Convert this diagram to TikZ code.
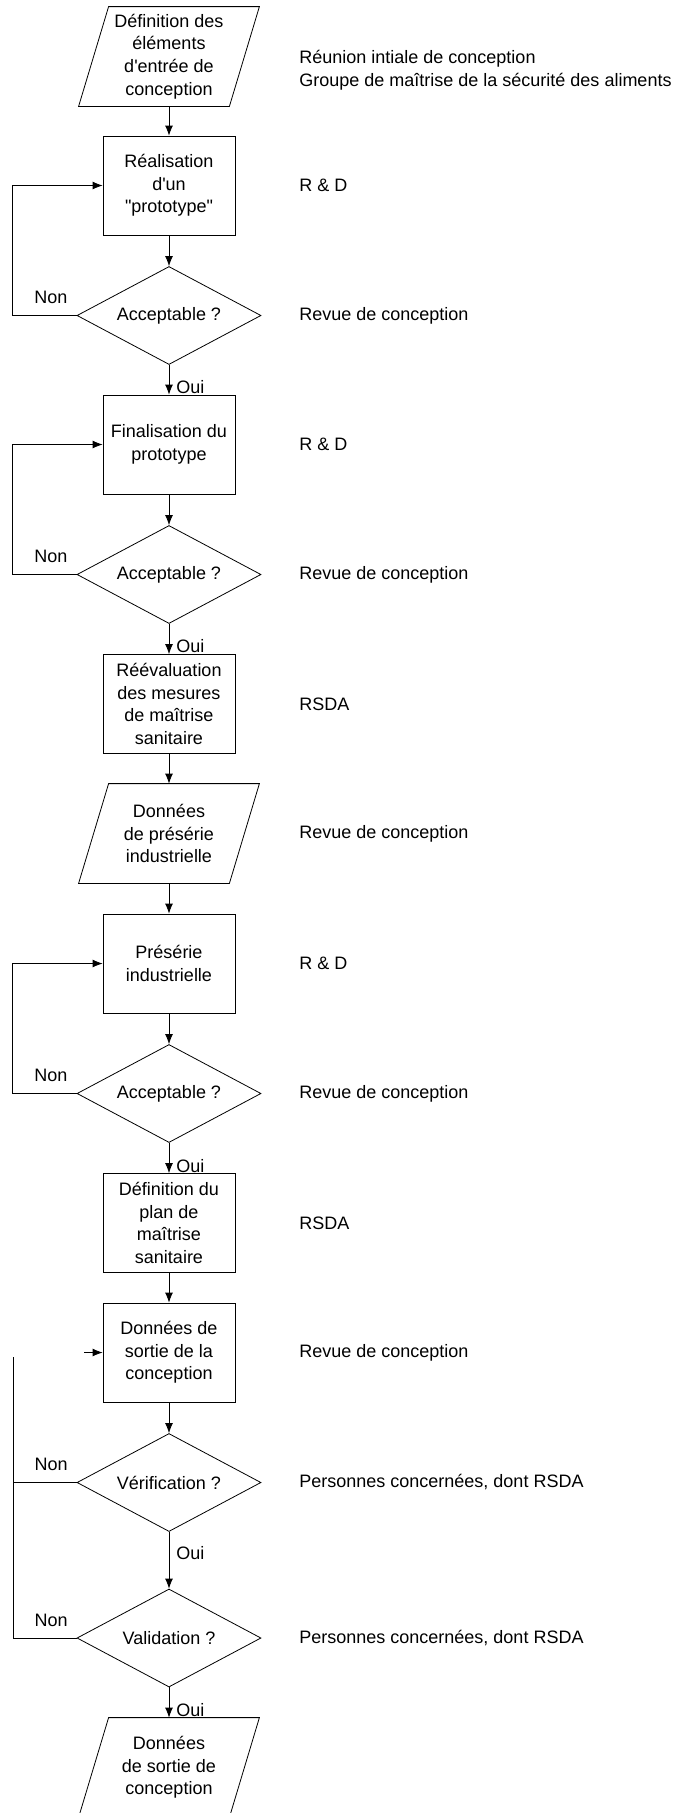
\documentclass[tikz,border=0pt]{standalone}
\usepackage{fontspec}
\setmainfont{Liberation Sans}[Ligatures=TeXOff]
\usetikzlibrary{shapes.geometric,arrows.meta}

\begin{document}
\begin{tikzpicture}[x=1pt, y=-1pt, line width=0.8pt,
    every node/.style={font=\fontsize{18pt}{22.7pt}\selectfont, inner sep=0pt},
    box/.style={draw, rectangle, minimum width=132pt, minimum height=99pt, align=center},
    iobox/.style={minimum width=150pt, minimum height=99pt, align=center},
    decision/.style={draw, diamond, shape aspect=1.88, minimum width=184pt, minimum height=98pt},
    note/.style={anchor=west, align=left},
    oui/.style={anchor=west, xshift=7pt},
    non/.style={pos=0.4, yshift=18pt},
    flow/.style={-{Latex[length=10pt, width=8pt]}}]
    \useasboundingbox (0,0) rectangle (676,1813);

    % main column
    \node[iobox] (def) at (169,56.5) {Définition des\\éléments\\d'entrée de\\conception};
    \node[box] (real) at (169,185.5) {Réalisation\\d'un\\"prototype"};
    \node[decision] (acc1) at (169,315.5) {Acceptable ?};
    \node[box] (fin) at (169,444.5) {Finalisation du\\prototype};
    \node[decision] (acc2) at (169,574.5) {Acceptable ?};
    \node[box] (reev) at (169,704) {Réévaluation\\des mesures\\de maîtrise\\sanitaire};
    \node[iobox] (pre) at (169,833.5) {Données\\de présérie\\industrielle};
    \node[box] (ind) at (169,963.5) {Présérie\\industrielle};
    \node[decision] (acc3) at (169,1093.5) {Acceptable ?};
    \node[box] (plan) at (169,1223) {Définition du\\plan de\\maîtrise\\sanitaire};
    \node[box] (sort) at (169,1352.5) {Données de\\sortie de la\\conception};
    \node[decision] (verif) at (169,1482.5) {Vérification ?};
    \node[decision] (valid) at (169,1638) {Validation ?};
    \node[iobox] (out) at (169,1767.5) {Données\\de sortie de\\conception};

    % slanted input/output shapes
    \foreach \n in {def,pre,out}
      \draw ([xshift=15pt]\n.north west) -- ([xshift=15pt]\n.north east)
        -- ([xshift=-15pt]\n.south east) -- ([xshift=-15pt]\n.south west) -- cycle;

    % straight flow
    \draw[flow] (def) -- (real);
    \draw[flow] (real) -- (acc1);
    \draw[flow] (acc1) -- node[oui, pos=0.75] {Oui} (fin);
    \draw[flow] (fin) -- (acc2);
    \draw[flow] (acc2) -- node[oui, pos=0.75] {Oui} (reev);
    \draw[flow] (reev) -- (pre);
    \draw[flow] (pre) -- (ind);
    \draw[flow] (ind) -- (acc3);
    \draw[flow] (acc3) -- node[oui, pos=0.75] {Oui} (plan);
    \draw[flow] (plan) -- (sort);
    \draw[flow] (sort) -- (verif);
    \draw[flow] (verif) -- node[oui, pos=0.37] {Oui} (valid);
    \draw[flow] (valid) -- node[oui, pos=0.75] {Oui} (out);

    % loops back
    \draw[flow] (acc1.west) -- node[non] {Non} ++(-64,0) |- (real.west);
    \draw[flow] (acc2.west) -- node[non] {Non} ++(-64,0) |- (fin.west);
    \draw[flow] (acc3.west) -- node[non] {Non} ++(-64,0) |- (ind.west);

    \coordinate (top) at (13,1357);
    \coordinate (stub) at (84,1352.5);
    \draw (valid.west) -- node[non] {Non} (valid.west -| top) -- (top);
    \draw (verif.west) -- node[non] {Non} (verif.west -| top);
    \draw[flow] (stub) -- (sort.west);

    % who does what
    \coordinate (rc) at (299,0);
    \node[note] (who) at (rc |- 0,70) {Réunion intiale de conception\\Groupe de maîtrise de la sécurité des aliments};
    \foreach \n/\t in {real/R \& D, acc1/Revue de conception, fin/R \& D, acc2/Revue de conception,
        reev/RSDA, pre/Revue de conception, ind/R \& D, acc3/Revue de conception, plan/RSDA,
        sort/Revue de conception, verif/{Personnes concernées, dont RSDA}, valid/{Personnes concernées, dont RSDA}}
      \node[note] (who-\n) at (rc |- \n) {\t};
\end{tikzpicture}
\end{document}
